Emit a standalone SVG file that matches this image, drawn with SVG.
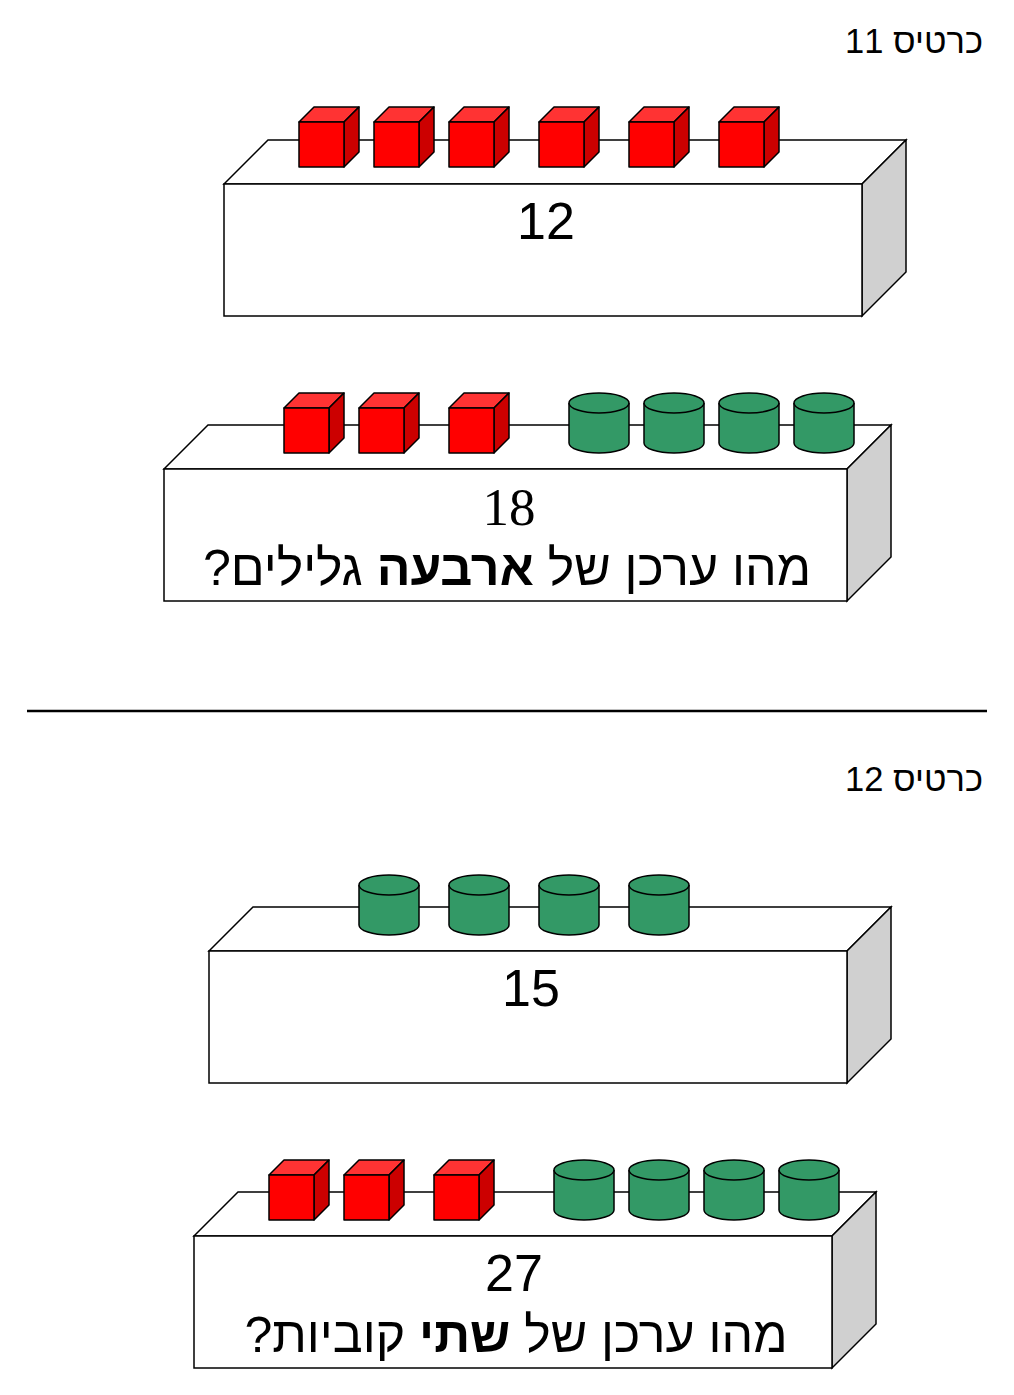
<svg xmlns="http://www.w3.org/2000/svg" xmlns:xlink="http://www.w3.org/1999/xlink" width="1014" height="1395" viewBox="0 0 1014 1395">
<style>
.f{fill:#fff;stroke:#000;stroke-width:1.5}
.s{fill:#d0d0d0;stroke:#000;stroke-width:1.5}
.t{font-family:"Liberation Sans","DejaVu Sans",sans-serif;fill:#000}
.n{font-family:"Liberation Serif",serif;fill:#000}
</style>
<defs>
<g id="cube" stroke="#000" stroke-width="1.5" stroke-linejoin="round">
<polygon points="0,15 15,0 60,0 45,15" fill="#ff3333"/>
<polygon points="45,15 60,0 60,45 45,60" fill="#cc0000"/>
<rect x="0" y="15" width="45" height="45" fill="#ff0000"/>
</g>
<g id="cyl" stroke="#000" stroke-width="1.5">
<path d="M0,10 L0,50 A30,10 0 0 0 60,50 L60,10" fill="#339966"/>
<ellipse cx="30" cy="10" rx="30" ry="10" fill="#339966"/>
</g>
</defs>
<rect width="1014" height="1395" fill="#fff"/>
<text class="t" x="983" y="53" font-size="34.5" text-anchor="end">כרטיס 11</text>
<text class="t" x="983" y="791" font-size="34.5" text-anchor="end">כרטיס 12</text>
<line x1="27" y1="711" x2="987" y2="711" stroke="#000" stroke-width="2.5"/>

<g id="box1">
<polygon class="f" points="224,184 268,140 906,140 862,184"/>
<polygon class="s" points="862,184 906,140 906,272 862,316"/>
<rect class="f" x="224" y="184" width="638" height="132"/>
<use xlink:href="#cube" x="299" y="107"/><use xlink:href="#cube" x="374" y="107"/><use xlink:href="#cube" x="449" y="107"/>
<use xlink:href="#cube" x="539" y="107"/><use xlink:href="#cube" x="629" y="107"/><use xlink:href="#cube" x="719" y="107"/>
<text class="t" x="546" y="239" font-size="52" text-anchor="middle">12</text>
</g>

<g id="box2">
<polygon class="f" points="164,469 208,425 891,425 847,469"/>
<polygon class="s" points="847,469 891,425 891,557 847,601"/>
<rect class="f" x="164" y="469" width="683" height="132"/>
<use xlink:href="#cube" x="284" y="393"/><use xlink:href="#cube" x="359" y="393"/><use xlink:href="#cube" x="449" y="393"/>
<use xlink:href="#cyl" x="569" y="393"/><use xlink:href="#cyl" x="644" y="393"/><use xlink:href="#cyl" x="719" y="393"/><use xlink:href="#cyl" x="794" y="393"/>
<text class="n" x="509" y="525" font-size="53" text-anchor="middle">18</text>
<text class="t" x="507" y="585" font-size="50" text-anchor="middle" direction="rtl">מהו ערכן של <tspan font-weight="bold">ארבעה</tspan> גלילים?</text>
</g>

<g id="box3">
<polygon class="f" points="209,951 253,907 891,907 847,951"/>
<polygon class="s" points="847,951 891,907 891,1039 847,1083"/>
<rect class="f" x="209" y="951" width="638" height="132"/>
<use xlink:href="#cyl" x="359" y="875"/><use xlink:href="#cyl" x="449" y="875"/><use xlink:href="#cyl" x="539" y="875"/><use xlink:href="#cyl" x="629" y="875"/>
<text class="t" x="531" y="1006" font-size="52" text-anchor="middle">15</text>
</g>

<g id="box4">
<polygon class="f" points="194,1236 238,1192 876,1192 832,1236"/>
<polygon class="s" points="832,1236 876,1192 876,1324 832,1368"/>
<rect class="f" x="194" y="1236" width="638" height="132"/>
<use xlink:href="#cube" x="269" y="1160"/><use xlink:href="#cube" x="344" y="1160"/><use xlink:href="#cube" x="434" y="1160"/>
<use xlink:href="#cyl" x="554" y="1160"/><use xlink:href="#cyl" x="629" y="1160"/><use xlink:href="#cyl" x="704" y="1160"/><use xlink:href="#cyl" x="779" y="1160"/>
<text class="t" x="514" y="1291" font-size="52" text-anchor="middle">27</text>
<text class="t" x="516" y="1352" font-size="50" text-anchor="middle" direction="rtl">מהו ערכן של <tspan font-weight="bold">שתי</tspan> קוביות?</text>
</g>
</svg>
